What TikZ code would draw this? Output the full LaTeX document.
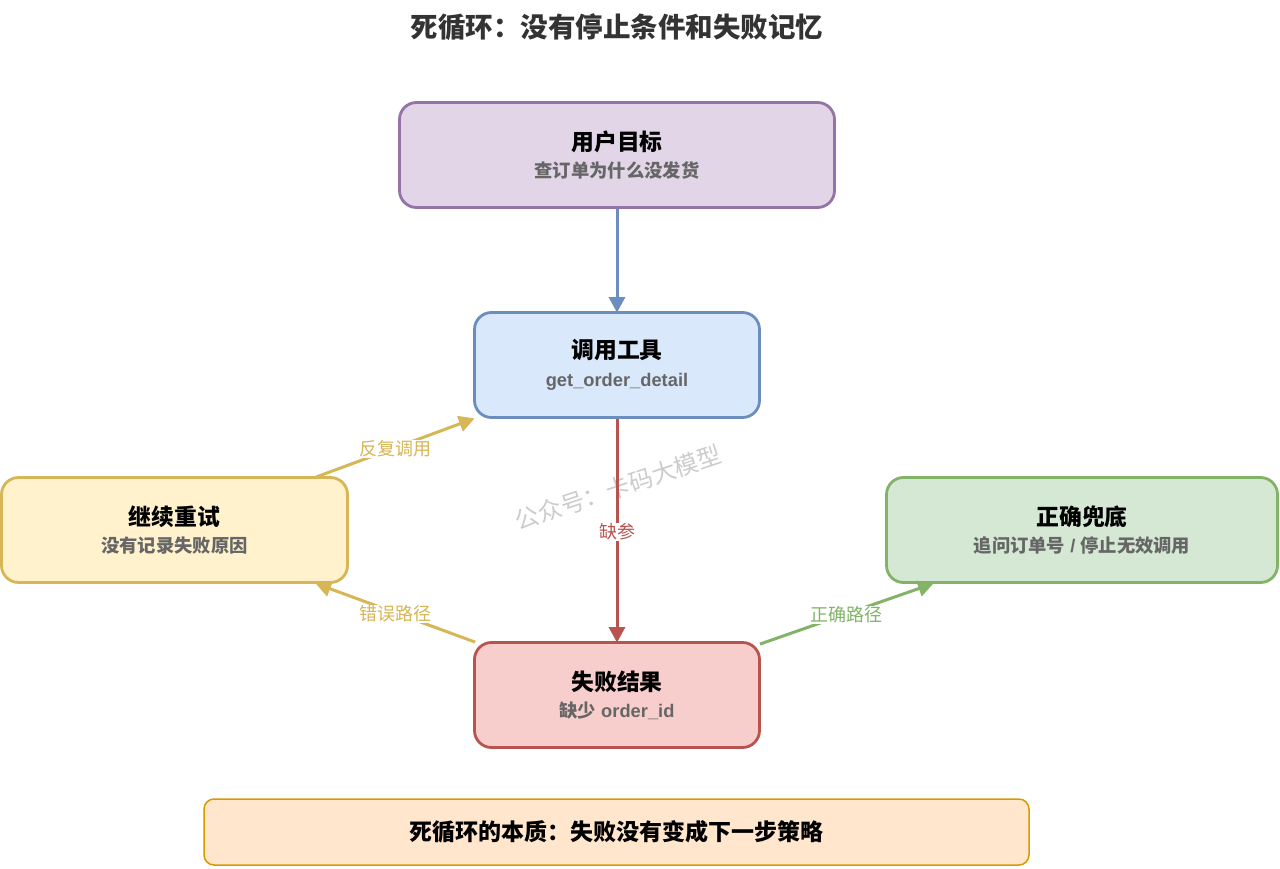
\documentclass[tikz,border=0pt]{standalone}
\usepackage{fontspec}
\setmainfont{Liberation Sans}
\newfontfamily\cjk{Noto Sans CJK SC}
\usetikzlibrary{arrows.meta}

\definecolor{goalfill}{HTML}{E1D5E7}
\definecolor{goalline}{HTML}{9673A6}
\definecolor{toolfill}{HTML}{DAE8FC}
\definecolor{toolline}{HTML}{6C8EBF}
\definecolor{failfill}{HTML}{F8CECC}
\definecolor{failline}{HTML}{B85450}
\definecolor{retryfill}{HTML}{FFF2CC}
\definecolor{retryline}{HTML}{D6B656}
\definecolor{okfill}{HTML}{D5E8D4}
\definecolor{okline}{HTML}{82B366}
\definecolor{notefill}{HTML}{FFE6CC}
\definecolor{noteline}{HTML}{D79B00}
\definecolor{subtext}{HTML}{666666}

\tikzset{
    stepbox/.style={draw, line width=2.8pt, rounded corners=17pt, align=center, minimum height=105pt, inner sep=0pt, text=black},
    flow/.style={-{Triangle[length=15.5pt, width=16pt]}, line width=3pt, shorten >=-1.5pt},
    flowlabel/.style={fill=white, inner sep=1pt, yshift=-1pt, font=\cjk\fontsize{18}{20}\selectfont},
}
\newcommand{\boxhead}[1]{{\cjk\bfseries\fontsize{22.8}{26}\selectfont #1}\\[8pt]}
\newcommand{\boxsub}[1]{{\color{subtext}\bfseries\fontsize{18.3}{22}\selectfont\vphantom{\cjk 国}#1}}

\begin{document}
\begin{tikzpicture}[x=1pt, y=-1pt]
        \useasboundingbox (0,0) rectangle (1280,869);
        % watermark sits under the arrows
        \node[rotate=18.5, text=black!20, font=\cjk\fontsize{24}{28}\selectfont] (mark) at (618,487.5) {公众号：卡码大模型};

        \node[font=\cjk\bfseries\fontsize{27.5}{30}\selectfont, text=black!80] (title) at (617,27) {死循环：没有停止条件和失败记忆};

        \node[stepbox, fill=goalfill, draw=goalline, minimum width=435pt] (goal) at (617,155)
            {\boxhead{用户目标}\boxsub{\cjk 查订单为什么没发货}};
        \node[stepbox, fill=toolfill, draw=toolline, minimum width=285pt] (tool) at (617,365)
            {\boxhead{调用工具}\boxsub{\raisebox{-1.5pt}{get\_order\_detail}}};
        \node[stepbox, fill=failfill, draw=failline, minimum width=285pt] (fail) at (617,695)
            {\boxhead{失败结果}\boxsub{{\cjk 缺少} order\_id}};
        \node[stepbox, fill=retryfill, draw=retryline, minimum width=346pt] (retry) at (174.5,530)
            {\boxhead{继续重试}\boxsub{\cjk 没有记录失败原因}};
        \node[stepbox, fill=okfill, draw=okline, minimum width=391pt] (ok) at (1082,530)
            {\boxhead{正确兜底}\boxsub{{\cjk 追问订单号} / {\cjk 停止无效调用}}};

        \node[draw=noteline, fill=notefill, line width=1.5pt, rounded corners=10pt, minimum width=825pt, minimum height=66pt, inner sep=0pt, font=\cjk\bfseries\fontsize{23}{26}\selectfont] (note) at (616.5,832) {死循环的本质：失败没有变成下一步策略};

        \draw[flow, draw=toolline] (goal) -- (tool);
        \draw[flow, draw=failline] (tool) -- node[flowlabel, text=failline, pos=0.505] (lackparam) {缺参} (fail);
        \draw[flow, draw=retryline] ([xshift=-33pt,yshift=-1pt]retry.north east) -- node[flowlabel, text=retryline, pos=0.5, xshift=1pt] (again) {反复调用} (tool.south west);
        \draw[flow, draw=retryline] ([xshift=2pt,yshift=-1pt]fail.north west) -- node[flowlabel, text=retryline, pos=0.5, xshift=-1pt] (wrongpath) {错误路径} ([xshift=-32pt]retry.south east);
        \draw[flow, draw=okline] ([xshift=-1pt,yshift=-3pt]fail.north east) -- node[flowlabel, text=okline, pos=0.5] (rightpath) {正确路径} ([xshift=47pt]ok.south west);
    \end{tikzpicture}
\end{document}
